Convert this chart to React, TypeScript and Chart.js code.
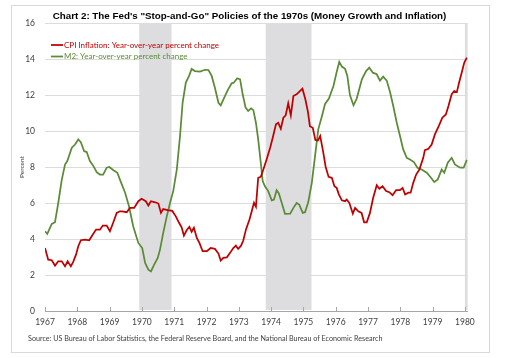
import React, { useEffect, useRef } from "react";
import { Chart, registerables } from "chart.js";

Chart.register(...registerables);

const chartTitle =
  'Chart 2: The Fed\'s "Stop-and-Go" Policies of the 1970s (Money Growth and Inflation)';
const sourceNote =
  "Source: US Bureau of Labor Statistics, the Federal Reserve Board, and the National Bureau of Economic Research";
const yAxisTitle = "Percent";
const cpiLabel = "CPI Inflation: Year-over-year percent change";
const m2Label = "M2: Year-over-year percent change";

const yearTicks = [1967, 1968, 1969, 1970, 1971, 1972, 1973, 1974, 1975, 1976, 1977, 1978, 1979, 1980];
const xMin = 1967;
const xMax = 1980.083;
const yMin = 0;
const yMax = 16;
const yStep = 2;

// NBER recessions (start of peak month to end of trough month)
const recessionStarts = [1969.917, 1973.833, 1980.0];
const recessionEnds = [1970.917, 1975.25, 1980.083];

const cpiDates = [
  1967.0, 1967.1, 1967.21, 1967.31, 1967.41, 1967.52, 1967.62, 1967.7, 1967.8, 1967.88, 1967.96,
  1968.03, 1968.11, 1968.24, 1968.37, 1968.48, 1968.58, 1968.7, 1968.79, 1968.91,
  1969.01, 1969.11, 1969.22, 1969.32, 1969.39, 1969.53, 1969.63, 1969.76, 1969.89, 1969.99,
  1970.12, 1970.2, 1970.28, 1970.41, 1970.51, 1970.59, 1970.66, 1970.8, 1970.94,
  1971.05, 1971.15, 1971.23, 1971.3, 1971.39, 1971.47, 1971.54, 1971.61, 1971.7, 1971.78, 1971.88,
  1972.01, 1972.13, 1972.26, 1972.37, 1972.44, 1972.52, 1972.63, 1972.73, 1972.83, 1972.91, 1972.98,
  1973.07, 1973.14, 1973.22, 1973.33, 1973.4, 1973.47, 1973.53, 1973.6, 1973.68, 1973.76, 1973.86, 1973.97,
  1974.05, 1974.15, 1974.22, 1974.3, 1974.38, 1974.45, 1974.53, 1974.61, 1974.69, 1974.79, 1974.89, 1974.97,
  1975.06, 1975.14, 1975.2, 1975.29, 1975.37, 1975.45, 1975.52, 1975.61, 1975.69, 1975.78, 1975.88, 1975.96,
  1976.03, 1976.1, 1976.19, 1976.29, 1976.34, 1976.42, 1976.53, 1976.6, 1976.7, 1976.8, 1976.88, 1976.96,
  1977.06, 1977.16, 1977.27, 1977.35, 1977.45, 1977.56, 1977.66, 1977.76, 1977.87, 1977.99,
  1978.07, 1978.15, 1978.25, 1978.32, 1978.4, 1978.49, 1978.59, 1978.71, 1978.76, 1978.87, 1978.97,
  1979.07, 1979.2, 1979.3, 1979.41, 1979.49, 1979.59, 1979.67, 1979.75, 1979.82, 1979.9, 1979.98, 1980.06,
];
const cpiValues = [
  3.5, 2.85, 2.82, 2.52, 2.76, 2.76, 2.48, 2.76, 2.48, 2.76, 3.13,
  3.6, 3.93, 3.97, 3.93, 4.25, 4.52, 4.52, 4.75, 4.75,
  4.43, 4.9, 5.45, 5.54, 5.54, 5.49, 5.73, 5.73, 6.1, 6.23,
  6.1, 5.86, 6.1, 6.04, 5.97, 5.45, 5.66, 5.6, 5.56,
  5.26, 4.9, 4.65, 4.19, 4.5, 4.67, 4.4, 4.62, 4.06, 3.78, 3.32,
  3.32, 3.5, 3.45, 3.19, 2.8, 2.95, 2.98, 3.23, 3.5, 3.63, 3.45,
  3.63, 3.93, 4.52, 5.08, 5.54, 6.01, 5.79, 7.4, 7.46, 7.86, 8.42, 9.07,
  9.63, 10.37, 10.46, 10.13, 10.74, 10.87, 11.54, 10.87, 11.94, 12.04, 12.22, 12.35,
  11.76, 11.06, 10.27, 10.18, 9.5, 9.47, 9.72, 8.85, 8.0, 7.45, 7.4, 6.93,
  6.84, 6.47, 6.15, 6.1, 6.19, 6.01, 5.41, 5.73, 5.54, 5.45, 4.93, 4.93,
  5.45, 6.29, 6.99, 6.79, 6.93, 6.66, 6.6, 6.43, 6.71, 6.71,
  6.84, 6.47, 6.57, 6.57, 7.12, 7.58, 7.86, 8.51, 8.94, 9.01, 9.25,
  9.81, 10.31, 10.74, 10.92, 11.39, 12.04, 12.22, 12.16, 12.69, 13.24, 13.8, 14.08,
];

const m2Dates = [
  1967.0, 1967.07, 1967.21, 1967.31, 1967.41, 1967.52, 1967.62, 1967.69, 1967.83, 1967.93,
  1968.03, 1968.11, 1968.21, 1968.29, 1968.39, 1968.5, 1968.6, 1968.7, 1968.8, 1968.91, 1968.99,
  1969.11, 1969.24, 1969.32, 1969.48, 1969.6, 1969.73, 1969.89,
  1970.01, 1970.1, 1970.2, 1970.28, 1970.38, 1970.49, 1970.56, 1970.66, 1970.77, 1970.87, 1970.97,
  1971.08, 1971.18, 1971.26, 1971.36, 1971.46, 1971.54, 1971.64, 1971.8, 1971.95,
  1972.06, 1972.16, 1972.26, 1972.37, 1972.44, 1972.57, 1972.67, 1972.78, 1972.85, 1972.95,
  1973.04, 1973.12, 1973.21, 1973.29, 1973.38, 1973.45, 1973.53, 1973.6, 1973.68, 1973.74, 1973.81, 1973.91,
  1974.02, 1974.09, 1974.17, 1974.24, 1974.33, 1974.43, 1974.59, 1974.69, 1974.79, 1974.87, 1974.98,
  1975.05, 1975.15, 1975.26, 1975.36, 1975.46, 1975.57, 1975.67, 1975.79, 1975.93,
  1976.03, 1976.11, 1976.19, 1976.29, 1976.36, 1976.44, 1976.55, 1976.65, 1976.81, 1976.94,
  1977.04, 1977.15, 1977.27, 1977.37, 1977.47, 1977.58, 1977.68, 1977.78, 1977.89, 1977.99,
  1978.09, 1978.2, 1978.3, 1978.42, 1978.53, 1978.66, 1978.82, 1978.95,
  1979.05, 1979.16, 1979.28, 1979.36, 1979.47, 1979.59, 1979.69, 1979.85, 1979.96, 1980.06,
];
const m2Values = [
  4.43, 4.28, 4.84, 4.93, 6.0, 7.3, 8.14, 8.33, 9.07, 9.25,
  9.53, 9.38, 8.88, 8.83, 8.33, 8.05, 7.71, 7.58, 7.58, 7.96, 8.0,
  7.83, 7.68, 7.3, 6.57, 5.82, 4.71, 3.78,
  3.5, 2.67, 2.3, 2.2, 2.58, 2.95, 3.41, 4.34, 5.26, 6.0, 6.66,
  7.86, 9.72, 11.57, 12.69, 13.06, 13.45, 13.33, 13.3, 13.4,
  13.39, 13.06, 12.4, 11.57, 11.42, 11.94, 12.31, 12.65, 12.69, 12.93,
  12.87, 12.04, 11.3, 11.11, 11.26, 11.16, 10.46, 9.53, 8.24, 7.21, 6.93, 6.66,
  6.15, 6.19, 6.71, 6.53, 6.0, 5.4, 5.41, 5.73, 6.0, 5.91, 5.45,
  5.49, 6.05, 7.12, 8.6, 10.09, 10.8, 11.5, 11.8, 12.5,
  13.28, 13.84, 13.58, 13.45, 13.06, 12.0, 11.43, 11.8, 12.87, 13.33,
  13.52, 13.24, 13.15, 12.8, 13.02, 12.8, 12.18, 11.4, 10.46, 9.72,
  8.98, 8.51, 8.42, 8.27, 7.96, 7.86, 7.68, 7.4,
  7.16, 7.31, 7.86, 7.68, 8.24, 8.51, 8.14, 7.96, 7.96, 8.4,
];

const cpiColor = "#c00000";
const m2Color = "#5b8b37";
const shadeColor = "#dddcdf";
const gridColor = "#dcdcdc";
const axisColor = "#a6a6a6";
const textColor = "#404040";

const decorPlugin = {
  id: "decor",
  beforeDatasetsDraw(chart: any) {
    const { ctx, chartArea, scales } = chart;
    const x = scales.x;
    ctx.save();
    ctx.fillStyle = shadeColor;
    recessionStarts.forEach((s, i) => {
      const x0 = Math.max(x.getPixelForValue(s), chartArea.left);
      const x1 = Math.min(x.getPixelForValue(recessionEnds[i]), chartArea.right);
      ctx.fillRect(x0, chartArea.top, x1 - x0, chartArea.bottom - chartArea.top - 1);
    });
    ctx.strokeStyle = axisColor;
    ctx.lineWidth = 1;
    yearTicks.forEach((v) => {
      const px = Math.round(x.getPixelForValue(v)) + 0.5;
      ctx.beginPath();
      ctx.moveTo(px, chartArea.bottom - 4);
      ctx.lineTo(px, chartArea.bottom);
      ctx.stroke();
    });
    ctx.restore();
  },
  afterDraw(chart: any) {
    const { ctx } = chart;
    ctx.save();
    // title
    ctx.fillStyle = "#000000";
    ctx.font = "bold 9.8px 'Liberation Sans', Arial, sans-serif";
    ctx.textAlign = "center";
    ctx.textBaseline = "middle";
    ctx.fillText(chartTitle, 249.5, 16);
    // legend
    const items = [
      { label: cpiLabel, color: cpiColor, y: 45 },
      { label: m2Label, color: m2Color, y: 56.5 },
    ];
    ctx.textAlign = "left";
    ctx.font = "8px Lato, sans-serif";
    items.forEach((it) => {
      ctx.strokeStyle = it.color;
      ctx.lineWidth = 1.75;
      ctx.beginPath();
      ctx.moveTo(51, it.y);
      ctx.lineTo(63, it.y);
      ctx.stroke();
      ctx.fillStyle = it.color;
      ctx.fillText(it.label, 64, it.y);
    });
    // source
    ctx.fillStyle = textColor;
    ctx.font = "7.2px Lato, sans-serif";
    ctx.fillText(sourceNote, 28, 339);
    ctx.restore();
  },
};

export default function App() {
  const canvasRef = useRef<HTMLCanvasElement | null>(null);

  useEffect(() => {
    const canvas = canvasRef.current;
    if (!canvas) return;
    const chart = new Chart(canvas, {
      type: "line",
      data: {
        datasets: [
          {
            label: cpiLabel,
            data: cpiDates.map((d, i) => ({ x: d, y: cpiValues[i] })),
            borderColor: cpiColor,
            backgroundColor: cpiColor,
            borderWidth: 1.75,
            pointRadius: 0,
            tension: 0,
          },
          {
            label: m2Label,
            data: m2Dates.map((d, i) => ({ x: d, y: m2Values[i] })),
            borderColor: m2Color,
            backgroundColor: m2Color,
            borderWidth: 1.75,
            pointRadius: 0,
            tension: 0,
          },
        ],
      },
      options: {
        responsive: false,
        animation: false,
        events: [],
        layout: { padding: { left: 16, right: 37.4, top: 23, bottom: 27 } },
        plugins: {
          legend: { display: false },
          title: { display: false },
          tooltip: { enabled: false },
        },
        scales: {
          x: {
            type: "linear",
            min: xMin,
            max: xMax,
            afterBuildTicks: (scale: any) => {
              scale.ticks = yearTicks.map((v) => ({ value: v }));
            },
            afterFit: (scale: any) => {
              scale.height = 20;
            },
            grid: { display: false, drawTicks: false },
            border: { display: true, color: axisColor, width: 1 },
            ticks: {
              autoSkip: false,
              maxRotation: 0,
              padding: 6,
              color: textColor,
              font: { family: "Lato, sans-serif", size: 8.5 },
              callback: (v: any) => String(v),
            },
          },
          y: {
            min: yMin,
            max: yMax,
            afterFit: (scale: any) => {
              scale.width = 29;
            },
            grid: { color: gridColor, drawTicks: false, lineWidth: 1 },
            border: { display: false },
            ticks: {
              stepSize: yStep,
              padding: 10,
              color: textColor,
              font: { family: "Lato, sans-serif", size: 8.5 },
            },
            title: {
              display: true,
              text: yAxisTitle,
              color: textColor,
              font: { family: "Lato, sans-serif", size: 6.5 },
              padding: { top: 2, bottom: 0 },
            },
          },
        },
      },
      plugins: [decorPlugin],
    });
    return () => chart.destroy();
  }, []);

  return (
    <div style={{ position: "absolute", left: 0, top: 0, width: 505, height: 358, background: "#ffffff" }}>
      <div
        style={{
          position: "absolute",
          left: 11,
          top: 5,
          width: 477,
          height: 346,
          border: "1px solid #d9d9d9",
        }}
      />
      <canvas
        ref={canvasRef}
        width={505}
        height={358}
        style={{ position: "absolute", left: 0, top: 0, width: 505, height: 358, display: "block" }}
      />
    </div>
  );
}
